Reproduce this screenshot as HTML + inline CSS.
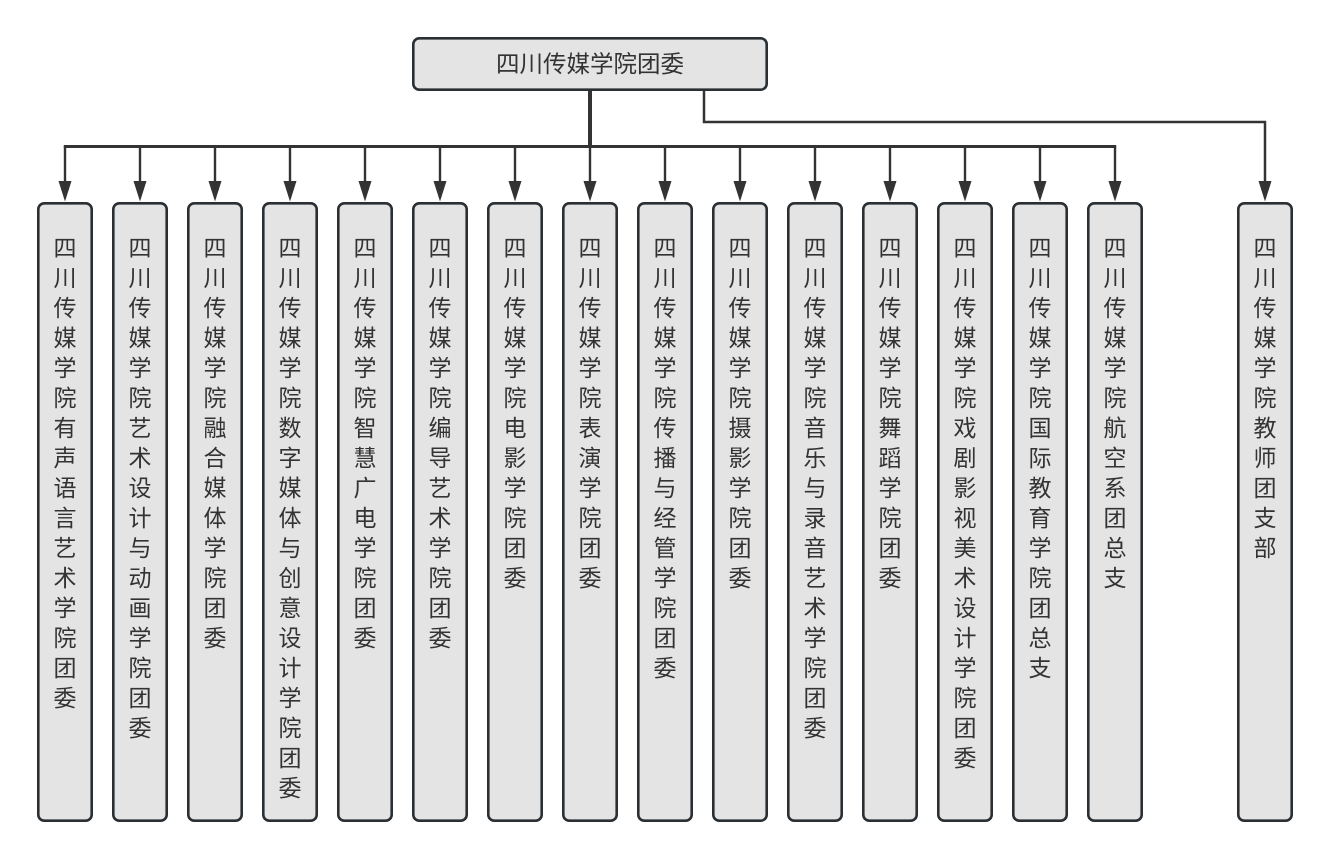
<!DOCTYPE html>
<html>
<head>
<meta charset="utf-8">
<style>
  html,body{margin:0;padding:0;background:#fff;}
  body{width:1330px;height:858px;position:relative;overflow:hidden;font-family:"Liberation Sans","Noto Sans CJK SC",sans-serif;}
  svg{position:absolute;left:0;top:0;}
  .v{position:absolute;top:232.5px;width:24px;font-size:23px;line-height:30px;color:#333;word-break:break-all;text-align:center;}
  .h{position:absolute;left:412px;top:37px;width:356px;height:54px;line-height:54px;text-align:center;font-size:23.5px;color:#333;}
</style>
</head>
<body>
<svg width="1330" height="858" viewBox="0 0 1330 858">
  <g fill="#e4e4e4" stroke="#2a2f33" stroke-width="2.6">
    <rect x="413.3" y="38.3" width="353.4" height="51.4" rx="6"/>
    <rect x="38.3" y="203.3" width="53.4" height="617.4" rx="6"/>
    <rect x="113.3" y="203.3" width="53.4" height="617.4" rx="6"/>
    <rect x="188.3" y="203.3" width="53.4" height="617.4" rx="6"/>
    <rect x="263.3" y="203.3" width="53.4" height="617.4" rx="6"/>
    <rect x="338.3" y="203.3" width="53.4" height="617.4" rx="6"/>
    <rect x="413.3" y="203.3" width="53.4" height="617.4" rx="6"/>
    <rect x="488.3" y="203.3" width="53.4" height="617.4" rx="6"/>
    <rect x="563.3" y="203.3" width="53.4" height="617.4" rx="6"/>
    <rect x="638.3" y="203.3" width="53.4" height="617.4" rx="6"/>
    <rect x="713.3" y="203.3" width="53.4" height="617.4" rx="6"/>
    <rect x="788.3" y="203.3" width="53.4" height="617.4" rx="6"/>
    <rect x="863.3" y="203.3" width="53.4" height="617.4" rx="6"/>
    <rect x="938.3" y="203.3" width="53.4" height="617.4" rx="6"/>
    <rect x="1013.3" y="203.3" width="53.4" height="617.4" rx="6"/>
    <rect x="1088.3" y="203.3" width="53.4" height="617.4" rx="6"/>
    <rect x="1238.3" y="203.3" width="53.4" height="617.4" rx="6"/>
  </g>
  <g stroke="#333" fill="none">
    <path d="M590 91 V146" stroke-width="4"/>
    <path d="M63.8 146.5 H1116.2" stroke-width="3"/>
    <path d="M704 91 V122 H1265 V184" stroke-width="2.5"/>
    <g stroke-width="2.4">
      <path d="M65 146 V184"/><path d="M140 146 V184"/><path d="M215 146 V184"/>
      <path d="M290 146 V184"/><path d="M365 146 V184"/><path d="M440 146 V184"/>
      <path d="M515 146 V184"/><path d="M590 146 V184"/><path d="M665 146 V184"/>
      <path d="M740 146 V184"/><path d="M815 146 V184"/><path d="M890 146 V184"/>
      <path d="M965 146 V184"/><path d="M1040 146 V184"/><path d="M1115 146 V184"/>
    </g>
  </g>
  <g fill="#333">
    <polygon points="58.5,181 71.5,181 65,201.5"/>
    <polygon points="133.5,181 146.5,181 140,201.5"/>
    <polygon points="208.5,181 221.5,181 215,201.5"/>
    <polygon points="283.5,181 296.5,181 290,201.5"/>
    <polygon points="358.5,181 371.5,181 365,201.5"/>
    <polygon points="433.5,181 446.5,181 440,201.5"/>
    <polygon points="508.5,181 521.5,181 515,201.5"/>
    <polygon points="583.5,181 596.5,181 590,201.5"/>
    <polygon points="658.5,181 671.5,181 665,201.5"/>
    <polygon points="733.5,181 746.5,181 740,201.5"/>
    <polygon points="808.5,181 821.5,181 815,201.5"/>
    <polygon points="883.5,181 896.5,181 890,201.5"/>
    <polygon points="958.5,181 971.5,181 965,201.5"/>
    <polygon points="1033.5,181 1046.5,181 1040,201.5"/>
    <polygon points="1108.5,181 1121.5,181 1115,201.5"/>
    <polygon points="1258.5,181 1271.5,181 1265,201.5"/>
  </g>
</svg>

<div class="h">四川传媒学院团委</div>

<div class="v" style="left:53px">四川传媒学院有声语言艺术学院团委</div>
<div class="v" style="left:128px">四川传媒学院艺术设计与动画学院团委</div>
<div class="v" style="left:203px">四川传媒学院融合媒体学院团委</div>
<div class="v" style="left:278px">四川传媒学院数字媒体与创意设计学院团委</div>
<div class="v" style="left:353px">四川传媒学院智慧广电学院团委</div>
<div class="v" style="left:428px">四川传媒学院编导艺术学院团委</div>
<div class="v" style="left:503px">四川传媒学院电影学院团委</div>
<div class="v" style="left:578px">四川传媒学院表演学院团委</div>
<div class="v" style="left:653px">四川传媒学院传播与经管学院团委</div>
<div class="v" style="left:728px">四川传媒学院摄影学院团委</div>
<div class="v" style="left:803px">四川传媒学院音乐与录音艺术学院团委</div>
<div class="v" style="left:878px">四川传媒学院舞蹈学院团委</div>
<div class="v" style="left:953px">四川传媒学院戏剧影视美术设计学院团委</div>
<div class="v" style="left:1028px">四川传媒学院国际教育学院团总支</div>
<div class="v" style="left:1103px">四川传媒学院航空系团总支</div>
<div class="v" style="left:1253px">四川传媒学院教师团支部</div>
</body>
</html>
